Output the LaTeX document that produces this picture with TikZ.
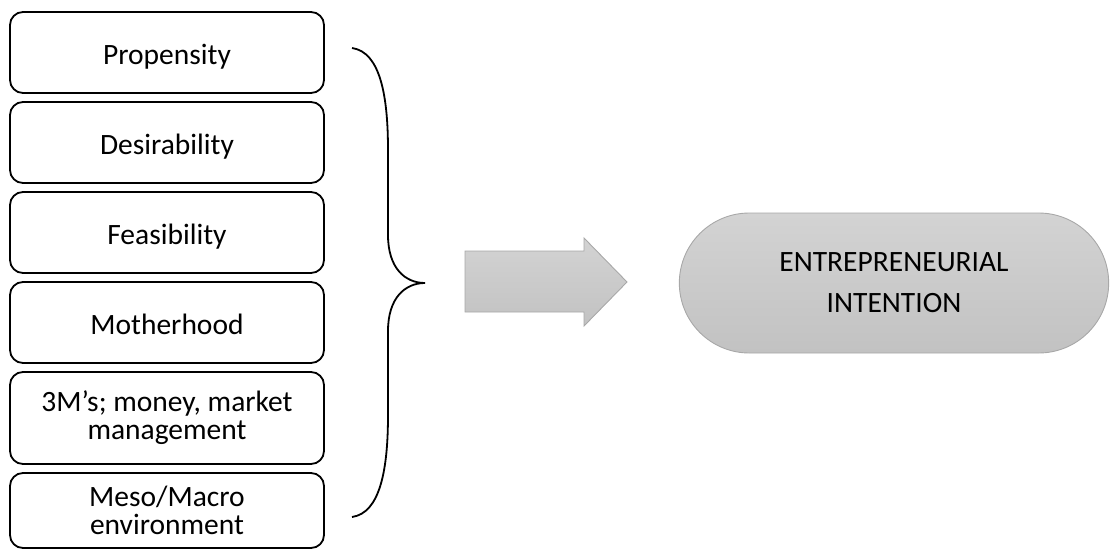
\documentclass[tikz,border=0pt]{standalone}
\usepackage{fontspec}
\setmainfont{Carlito}
\usepackage{tikz}
\usepackage{xcolor}
\usetikzlibrary{shapes.misc}

\definecolor{shadetop}{HTML}{D3D3D3}
\definecolor{shadebot}{HTML}{C2C2C2}
\definecolor{shadeline}{HTML}{A8A8A8}

\begin{document}
\begin{tikzpicture}[x=1pt, y=-1pt,
            every node/.style={font=\fontsize{29.5}{28}\selectfont},
            factor/.style={draw, line width=1.8pt, rounded corners=13pt, minimum width=314pt, align=center, inner sep=0pt},
            oneline/.style={factor, minimum height=81pt, text height=23pt, text depth=0pt},
            result/.style={rounded rectangle, draw=shadeline, line width=0.9pt, top color=shadetop, bottom color=shadebot, minimum width=436pt, minimum height=140pt, align=center}]
            \useasboundingbox (0,0) rectangle (1112,549);

            % factors
            \node[oneline] (P) at (167,52.5)  {Propensity};
            \node[oneline] (D) at (167,142.5) {Desirability};
            \node[oneline] (F) at (167,232.5) {Feasibility};
            \node[oneline] (M) at (167,322.5) {Motherhood};
            \node[factor, minimum height=92pt] (T) at (167,418)   {3M’s; money, market\\management};
            \node[factor, minimum height=75pt] (E) at (167,510.5) {Meso/Macro\\environment};

            % brace
            \coordinate (bt) at (352,48);
            \coordinate (bm) at (425,283);
            \coordinate (bb) at (352,517);
            \draw[line width=1.8pt] (bt) .. controls (380,52) and (388,95) .. (388,150)
                -- (388,235) .. controls (388,268) and (405,283) .. (bm)
                .. controls (405,283) and (388,298) .. (388,331)
                -- (388,415) .. controls (388,470) and (380,513) .. (bb);

            % arrow
            \draw[shadeline, line width=0.9pt, top color=shadetop, bottom color=shadebot]
                (465,251) -- (584,251) -- (584,238) -- (627,282) -- (584,326) -- (584,312) -- (465,312) -- cycle;

            % outcome
            \node[result, font=\fontsize{29.5}{41}\selectfont] (I) at (894,283) {ENTREPRENEURIAL\\INTENTION};
        \end{tikzpicture}
\end{document}
